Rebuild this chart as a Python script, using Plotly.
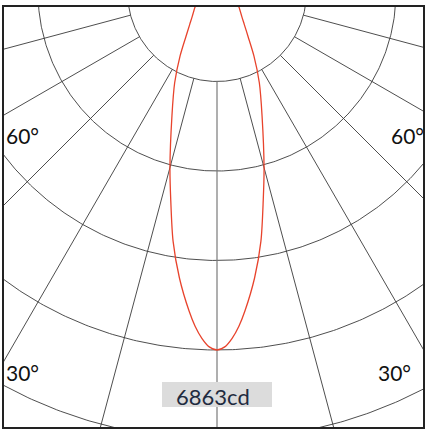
import numpy as np
import plotly.graph_objects as go

# ---- data ----
angles_deg = [0, 1.25, 2.5, 3.75, 5, 7.5, 10, 12.5, 15, 20, 25, 30, 35, 40, 45, 50, 55, 60, 70, 80, 90]
intensity_cd = [6863, 6805, 6645, 6420, 6140, 5525, 4850, 4095, 3485, 2525, 1920, 1415, 1035, 815, 675, 585,
                518, 455, 300, 150, 0]
grid_angles_deg = [-75, -60, -45, -30, -15, 0, 15, 30, 45, 60, 75]
ring_values_cd = [1716, 3432, 5147, 6863, 8579, 10295]
angle_labels = ["60°", "60°", "30°", "30°"]
peak_label = "6863cd"

PEAK = max(intensity_cd)
K = PEAK / 358.0  # cd per pixel on screen


def pol2xy(theta_deg, r):
    t = np.radians(np.asarray(theta_deg, dtype=float))
    r = np.asarray(r, dtype=float)
    return r * np.sin(t), -r * np.cos(t)


def px(x, y):
    # screen-position helper for layout items (centre of diagram at (217,-8))
    return (x - 217) * K, -(y + 8) * K


fig = go.Figure()

# rings
arc = np.linspace(-90, 90, 361)
for rv in ring_values_cd:
    x, y = pol2xy(arc, np.full_like(arc, rv))
    fig.add_trace(go.Scatter(x=x, y=y, mode="lines",
                             line=dict(color="#3a3a3a", width=0.9),
                             hoverinfo="skip", showlegend=False))

# radial lines
for a in grid_angles_deg:
    x, y = pol2xy([a, a], [ring_values_cd[0], ring_values_cd[-1] * 1.2])
    fig.add_trace(go.Scatter(x=x, y=y, mode="lines",
                             line=dict(color="#7a7a7a" if a == 0 else "#3a3a3a",
                                       width=1.2 if a == 0 else 0.9),
                             hoverinfo="skip", showlegend=False))

# intensity curve (symmetric)
th = [-a for a in angles_deg[::-1]] + angles_deg[1:]
iv = intensity_cd[::-1] + intensity_cd[1:]
cx, cy = pol2xy(th, iv)
fig.add_trace(go.Scatter(x=cx, y=cy, mode="lines",
                         line=dict(color="#e8432c", width=1.3, shape="spline", smoothing=0.8),
                         hoverinfo="skip", showlegend=False))

# angle labels (clipped to the frame)
lab_pos = [px(6, 139), px(391, 139), px(6, 376), px(378, 376)]
fig.add_trace(go.Scatter(x=[p[0] for p in lab_pos], y=[p[1] for p in lab_pos],
                         mode="text", text=angle_labels, textposition="middle right",
                         textfont=dict(family="Lato", size=21, color="#111111"),
                         cliponaxis=True, hoverinfo="skip", showlegend=False))

# peak label box
bx0, by0 = px(162, 382)
bx1, by1 = px(272, 407)
fig.add_shape(type="rect", x0=bx0, x1=bx1, y0=by1, y1=by0, layer="above",
              line=dict(width=0), fillcolor="#dcdcdc")
tx, ty = px(213, 396)
fig.add_annotation(x=tx, y=ty, text=peak_label, showarrow=False,
                   font=dict(family="Lato", size=22, color="#1f2b40"))

xr0, _ = px(4, 0)
xr1, _ = px(423, 0)
_, yr1 = px(0, 7)
_, yr0 = px(0, 427)

fig.update_xaxes(range=[xr0, xr1], showgrid=False, zeroline=False, showticklabels=False,
                 ticks="", showline=True, mirror=True, linecolor="#222222", linewidth=1.5)
fig.update_yaxes(range=[yr0, yr1], showgrid=False, zeroline=False, showticklabels=False,
                 ticks="", showline=True, mirror=True, linecolor="#222222", linewidth=1.5)
fig.update_layout(width=432, height=436, margin=dict(l=4, r=9, t=7, b=9),
                  paper_bgcolor="white", plot_bgcolor="white")

fig.write_html("out.html", config={"displayModeBar": False},
               post_script="document.body.style.margin='0';document.body.style.overflow='hidden';")
